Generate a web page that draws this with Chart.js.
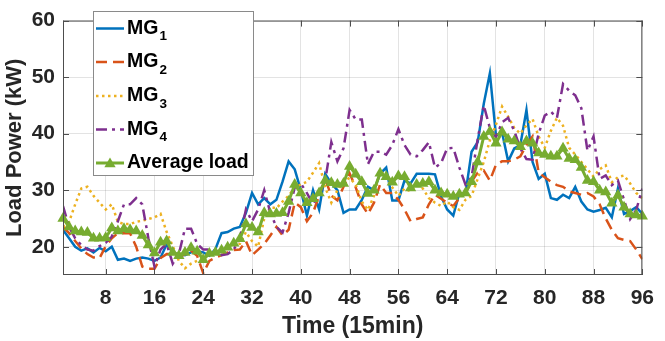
<!DOCTYPE html>
<html>
<head>
<meta charset="utf-8">
<script src="https://cdn.jsdelivr.net/npm/chart.js@4.4.1/dist/chart.umd.min.js"></script>
<style>
  html, body { margin: 0; padding: 0; background: #ffffff; }
  #wrap { position: relative; width: 665px; height: 341px; }
</style>
</head>
<body>
<div id="wrap"><canvas id="c" width="665" height="341"></canvas></div>
<script>
// ---------------- data ----------------
const mg1 = [23, 21.5, 20, 19.3, 19.7, 19, 19.8, 19.2, 20, 17.7,
  17.9, 17.5, 17.9, 18.1, 17.9, 17.5, 18.1, 20.4, 19, 18.7,
  18.5, 19, 19.2, 19, 18.4, 19.6, 22.4, 22.6, 23.2, 23.5,
  26, 29.5, 27.5, 28.6, 27.5, 28.3, 31.5, 35.1, 33.7, 30,
  25.5, 30, 26.6, 32.9, 31.2, 30, 26, 26.6, 26.6, 28.3,
  30.6, 30, 32.9, 34, 28.2, 28.2, 31.7, 31.2, 32.9, 32.9,
  32.9, 32.8, 28.9, 26.6, 25.5, 29.5, 29.4, 36.8, 38.5, 45.3,
  50.7, 39.7, 40.2, 35.1, 37.4, 38, 44.2, 35, 32, 32.9,
  28.6, 28.3, 29.2, 28.6, 30.6, 28, 26.6, 26.2, 26.5, 26.9,
  25.2, 30.3, 25.8, 26.3, 27, 25.8];
const mg2 = [23.5, 22.4, 21, 19.7, 18.7, 18.1, 18, 20.1, 21.5, 22.4,
  22.4, 22.4, 20, 16.5, 16.1, 16.1, 18, 18.7, 18.7, 18.1,
  18.7, 19.3, 18.4, 15.3, 17.5, 18.1, 18.5, 19, 19.4, 19.5,
  21, 18.5, 19.5, 20.5, 22, 23.5, 22, 23, 27.8, 27,
  24.5, 26, 29, 32, 29, 28.2, 30.6, 33, 30.5, 27.5,
  25.8, 27.8, 31, 29.5, 29.5, 28.3, 26.6, 24.5, 24.9, 25.2,
  27.5, 29.2, 28.5, 27.8, 27.2, 28.6, 29.5, 31.5, 33.1, 33.5,
  31.7, 34.5, 35.1, 35.1, 35.4, 36, 38, 39.5, 33.1, 32.3,
  31.5, 30.9, 30.6, 29.8, 29.5, 29.2, 29.5, 28.9, 27.5, 25,
  23, 21.5, 21.2, 21, 19.5, 17.8];
const mg3 = [23.5, 24.4, 27.5, 30.3, 30.6, 29, 27.8, 26.6, 27.5, 24.4,
  24, 24, 24.4, 24.6, 24.9, 25.2, 25.8, 22.6, 20.1, 17.5,
  16.2, 17, 17.5, 18, 18.6, 19, 19.2, 19.5, 20.4, 20.5,
  22.6, 21, 20, 25, 27, 26.8, 28, 29, 30.5, 31,
  31.5, 33.1, 34.8, 30.5, 27.8, 30, 31.5, 32.2, 31, 28,
  26.5, 29, 33.5, 32.3, 30.5, 29, 30.3, 29.8, 30.9, 30.3,
  28.6, 27.8, 27.2, 28, 27, 26.5, 28.3, 29, 32, 35,
  38.8, 41.6, 44.8, 43, 41, 40, 41.5, 42.6, 39.5, 37.5,
  40.5, 42.8, 41.4, 37.5, 36.3, 35, 33.7, 32.4, 33.7, 34.4,
  31.4, 32.3, 32.6, 31.2, 29.5, 28.6];
const mg4 = [27.2, 23.5, 21.5, 20.3, 19.5, 19.3, 20.1, 20.7, 21.8, 24.5,
  27.5, 27.5, 28.6, 27.5, 21.5, 16.5, 19.5, 20.5, 17, 18.7,
  23.2, 23.2, 20.5, 19.5, 19.5, 19.3, 18.5, 18.7, 19.5, 21.5,
  26.6, 24.5, 26.6, 30, 26, 23.5, 22.5, 26, 30.5, 31.2,
  29.5, 27.5, 29.5, 31.7, 38.5, 35.1, 37.4, 44.2, 42.5, 42.5,
  34.6, 36.8, 36.8, 36.3, 38, 40.8, 38, 36.3, 36, 37.1,
  38.5, 34, 34.8, 37.4, 37.5, 34, 31, 32.3, 39, 45,
  41, 39.4, 42, 42.8, 40.5, 37.4, 35.5, 35.4, 40, 43.2,
  43.9, 42.8, 48.8, 47.6, 46.8, 44.5, 37, 39.5, 32, 32.6,
  30.9, 31.7, 28.3, 24.9, 26.5, 30.3];
const avgLoad = [25, 23.5, 22.8, 22.6, 22.5, 21.5, 21.5, 21.6, 23.3, 22.8,
  23.2, 23, 22.8, 22, 20.3, 18.9, 20.8, 21, 19, 18.4,
  19, 19.8, 19.2, 17.7, 18.8, 19, 19.4, 19.9, 20.6, 21.4,
  24, 23.4, 22.6, 26, 25.8, 25.9, 26, 28, 31, 29.5,
  27.8, 28.5, 29.5, 31.7, 31.3, 31, 31.2, 34.2, 32.8, 31.5,
  29.4, 30, 33, 32.4, 31.4, 32.5, 32.4, 30.4, 31, 31.2,
  31.5, 30, 29.5, 29.3, 28.9, 29.3, 29.5, 31.5, 35, 39.5,
  40.4, 38.3, 40.3, 39, 38.7, 37.7, 38.7, 38.3, 36.6, 36.3,
  36, 36, 37.4, 35.6, 35.4, 34, 31.7, 31.5, 30, 29.7,
  27.7, 29.1, 27, 25.8, 25.6, 25.4];
const timeSteps = mg1.map((_, i) => i + 1);
const xTickValues = [8, 16, 24, 32, 40, 48, 56, 64, 72, 80, 88, 96];
const yTickValues = [20, 30, 40, 50, 60];
const legendNames = ['MG', 'MG', 'MG', 'MG', 'Average load'];
const legendSubs = ['1', '2', '3', '4', ''];
const xTitle = 'Time (15min)';
const yTitle = 'Load Power (kW)';

// ---------------- helpers ----------------
const FONT = '"Liberation Sans", Arial, Helvetica, sans-serif';
const toPts = arr => arr.map((v, i) => ({ x: timeSteps[i], y: v }));

function drawTriangle(ctx, x, y, r, color) {
  ctx.beginPath();
  ctx.moveTo(x, y - r);
  ctx.lineTo(x + r * Math.sin(Math.PI / 3), y + r * 0.5);
  ctx.lineTo(x - r * Math.sin(Math.PI / 3), y + r * 0.5);
  ctx.closePath();
  ctx.fillStyle = color;
  ctx.fill();
}

const boxPlugin = {
  id: 'boxTicks',
  afterDatasetsDraw(chart) {
    const { ctx, chartArea: a, scales } = chart;
    ctx.save();
    ctx.strokeStyle = '#4d4d4d';
    ctx.lineWidth = 1;
    ctx.beginPath();
    ctx.moveTo(a.left, a.top + 0.5); ctx.lineTo(a.right, a.top + 0.5);
    ctx.moveTo(a.right - 0.5, a.top); ctx.lineTo(a.right - 0.5, a.bottom);
    ctx.moveTo(a.left + 0.5, a.top); ctx.lineTo(a.left + 0.5, a.bottom);
    ctx.moveTo(a.left, a.bottom - 0.5); ctx.lineTo(a.right, a.bottom - 0.5);
    const tl = 6;
    xTickValues.forEach(v => {
      const px = Math.round(scales.x.getPixelForValue(v)) + 0.5;
      ctx.moveTo(px, a.bottom); ctx.lineTo(px, a.bottom - tl);
      ctx.moveTo(px, a.top); ctx.lineTo(px, a.top + tl);
    });
    yTickValues.forEach(v => {
      const py = Math.round(scales.y.getPixelForValue(v)) + 0.5;
      ctx.moveTo(a.left, py); ctx.lineTo(a.left + tl, py);
      ctx.moveTo(a.right, py); ctx.lineTo(a.right - tl, py);
    });
    ctx.stroke();
    ctx.restore();
  }
};

const legendPlugin = {
  id: 'matlabLegend',
  afterDraw(chart) {
    const ctx = chart.ctx;
    ctx.save();
    const bx = 93, by = 11, bw = 160, bh = 164;
    ctx.fillStyle = '#ffffff';
    ctx.fillRect(bx, by, bw, bh);
    ctx.strokeStyle = '#8a8a8a';
    ctx.lineWidth = 1;
    ctx.strokeRect(bx + 0.5, by + 0.5, bw, bh);
    const rows = [28.5, 62, 96, 129.5, 163];
    rows.forEach((y, i) => {
      const ds = chart.data.datasets[i];
      ctx.save();
      ctx.strokeStyle = ds.borderColor;
      ctx.lineWidth = ds.borderWidth;
      ctx.setLineDash(ds.borderDash || []);
      ctx.beginPath();
      ctx.moveTo(96, y); ctx.lineTo(124, y);
      ctx.stroke();
      ctx.restore();
      if (ds.pointRadius > 0) drawTriangle(ctx, 110, y + 1, ds.pointRadius, ds.pointBackgroundColor);
      ctx.fillStyle = '#000000';
      ctx.textBaseline = 'middle';
      ctx.textAlign = 'left';
      ctx.font = 'bold 19.5px ' + FONT;
      ctx.fillText(legendNames[i], 127, y);
      if (legendSubs[i]) {
        const w = ctx.measureText(legendNames[i]).width;
        ctx.font = 'bold 13.5px ' + FONT;
        ctx.fillText(legendSubs[i], 127 + w + 1, y + 8);
      }
    });
    ctx.restore();
  }
};

// ---------------- chart ----------------
new Chart(document.getElementById('c'), {
  type: 'line',
  data: {
    datasets: [
      { label: 'MG1', data: toPts(mg1), borderColor: '#0072BD', borderWidth: 2.5, pointRadius: 0, tension: 0, order: 4 },
      { label: 'MG2', data: toPts(mg2), borderColor: '#D95319', borderWidth: 2.5, borderDash: [11, 6], pointRadius: 0, tension: 0, order: 3 },
      { label: 'MG3', data: toPts(mg3), borderColor: '#EDB120', borderWidth: 2.5, borderDash: [2.5, 3.5], pointRadius: 0, tension: 0, order: 2 },
      { label: 'MG4', data: toPts(mg4), borderColor: '#7E2F8E', borderWidth: 2.5, borderDash: [11, 5, 3, 5], pointRadius: 0, tension: 0, order: 1 },
      { label: 'Average load', data: toPts(avgLoad), borderColor: '#77AC30', borderWidth: 3, pointStyle: 'triangle',
        pointRadius: 6.5, pointBackgroundColor: '#77AC30', pointBorderColor: '#77AC30', pointBorderWidth: 0, tension: 0, order: 0, clip: false }
    ]
  },
  options: {
    responsive: false,
    animation: false,
    devicePixelRatio: 1,
    layout: { padding: { left: 0, right: 15, top: 10, bottom: 0 } },
    plugins: { legend: { display: false }, tooltip: { enabled: false } },
    scales: {
      x: {
        type: 'linear', min: 1, max: 96,
        afterBuildTicks: s => { s.ticks = xTickValues.map(v => ({ value: v })); },
        afterFit: s => { s.height = 66; },
        grid: { color: 'rgba(38,38,38,0.13)', lineWidth: 1, drawTicks: false },
        border: { display: false },
        ticks: { color: '#262626', font: { family: FONT, size: 21, weight: 'bold' }, padding: 11, maxRotation: 0, autoSkip: false },
        title: { display: true, text: xTitle, color: '#262626', font: { family: FONT, size: 23, weight: 'bold' }, padding: { top: 0, bottom: 1 } }
      },
      y: {
        min: 15, max: 60,
        afterBuildTicks: s => { s.ticks = yTickValues.map(v => ({ value: v })); },
        afterFit: s => { s.width = 63; },
        grid: { color: 'rgba(38,38,38,0.13)', lineWidth: 1, drawTicks: false },
        border: { display: false },
        ticks: { color: '#262626', font: { family: FONT, size: 21, weight: 'bold' }, padding: 8 },
        title: { display: true, text: yTitle, color: '#262626', font: { family: FONT, size: 22, weight: 'bold' }, padding: { top: 2, bottom: 0 } }
      }
    }
  },
  plugins: [boxPlugin, legendPlugin]
});
</script>
</body>
</html>
